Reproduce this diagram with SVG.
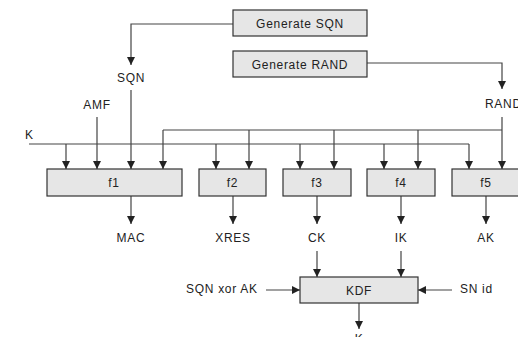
<svg xmlns="http://www.w3.org/2000/svg" width="518" height="337" viewBox="0 0 518 337">
<defs>
<marker id="ah" markerUnits="userSpaceOnUse" markerWidth="9" markerHeight="8" refX="8" refY="4" orient="auto">
<path d="M0,0 L8,4 L0,8 z" fill="#222"/>
</marker>
<style>
.box{fill:#e6e6e6;stroke:#333;stroke-width:1.2}
.t{font-family:"Liberation Sans",Arial,sans-serif;font-size:12px;letter-spacing:0.7px;fill:#222}
.c{text-anchor:middle}
.ln{fill:none;stroke:#444;stroke-width:1.2}
.ar{marker-end:url(#ah)}
</style>
</defs>
<rect width="518" height="337" fill="#fff"/>
<g id="connectors">
<path class="ln ar" d="M233,24 H131 V65"/>
<path class="ln ar" d="M367,63 H502 V89"/>
<path class="ln ar" d="M131,90 V169"/>
<path class="ln ar" d="M97,117 V169"/>
<path class="ln ar" d="M502,117 V169"/>
<path class="ln" d="M163,130 H502"/>
<path class="ln ar" d="M163,130 V169"/>
<path class="ln ar" d="M249,130 V169"/>
<path class="ln ar" d="M334,130 V169"/>
<path class="ln ar" d="M418,130 V169"/>
<path class="ln" d="M29,144 H469"/>
<path class="ln ar" d="M66,144 V169"/>
<path class="ln ar" d="M216,144 V169"/>
<path class="ln ar" d="M300,144 V169"/>
<path class="ln ar" d="M384,144 V169"/>
<path class="ln ar" d="M469,144 V169"/>
<path class="ln ar" d="M131,196 V224"/>
<path class="ln ar" d="M233,196 V224"/>
<path class="ln ar" d="M317,196 V224"/>
<path class="ln ar" d="M401,196 V224"/>
<path class="ln ar" d="M486,196 V224"/>
<path class="ln ar" d="M317,251 V277"/>
<path class="ln ar" d="M401,251 V277"/>
<path class="ln ar" d="M266,290 H300"/>
<path class="ln ar" d="M452,290 H418"/>
<path class="ln ar" d="M359,303 V329"/>
</g>
<g id="gensqn"><rect class="box" x="233" y="10" width="134" height="26"/><text class="t c" x="300" y="27.5">Generate SQN</text></g>
<g id="genrand"><rect class="box" x="233" y="51" width="134" height="26"/><text class="t c" x="300" y="68.5">Generate RAND</text></g>
<g id="f1"><rect class="box" x="47" y="169" width="135" height="27"/><text class="t c" x="114" y="187">f1</text></g>
<g id="f2"><rect class="box" x="199" y="169" width="67" height="27"/><text class="t c" x="232.5" y="187">f2</text></g>
<g id="f3"><rect class="box" x="283" y="169" width="68" height="27"/><text class="t c" x="317" y="187">f3</text></g>
<g id="f4"><rect class="box" x="367" y="169" width="68" height="27"/><text class="t c" x="401" y="187">f4</text></g>
<g id="f5"><rect class="box" x="452" y="169" width="68" height="27"/><text class="t c" x="486" y="187">f5</text></g>
<g id="kdf"><rect class="box" x="300" y="277" width="118" height="26"/><text class="t c" x="359" y="294.5">KDF</text></g>
<g id="labels">
<text class="t c" x="131" y="81.5">SQN</text>
<text class="t c" x="97" y="108.5">AMF</text>
<text class="t" x="25" y="139">K</text>
<text class="t" x="485" y="107.5">RAND</text>
<text class="t c" x="131" y="241.5">MAC</text>
<text class="t c" x="233" y="241.5">XRES</text>
<text class="t c" x="317" y="241.5">CK</text>
<text class="t c" x="401" y="241.5">IK</text>
<text class="t c" x="486" y="241.5">AK</text>
<text class="t" x="186" y="293">SQN xor AK</text>
<text class="t" x="460" y="293">SN id</text>
<text class="t c" x="359" y="343">K</text>
</g>
</svg>
